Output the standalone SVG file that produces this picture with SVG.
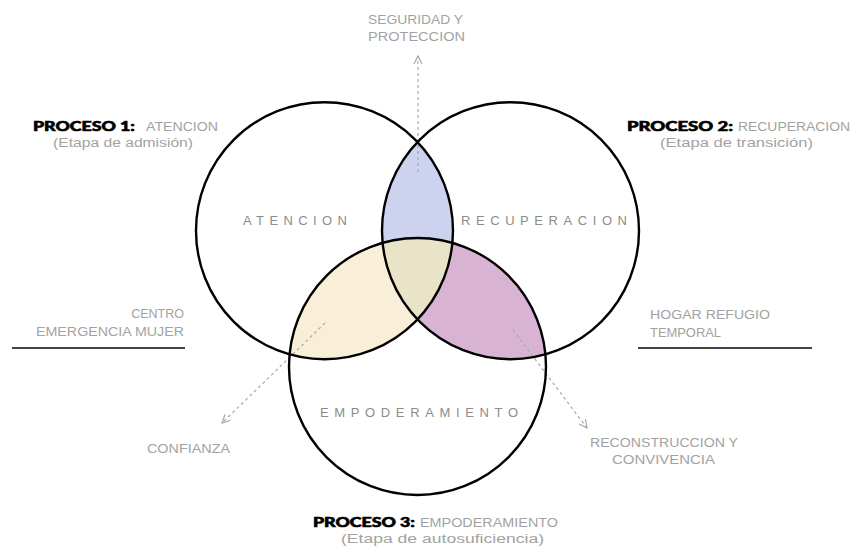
<svg xmlns="http://www.w3.org/2000/svg" width="853" height="549" viewBox="0 0 853 549">
<style>
.lbl{font-family:"Liberation Sans",Arial,sans-serif;font-size:12.5px;fill:#a2a2a2}
.big{font-family:"Liberation Sans",Arial,sans-serif;font-size:13px;fill:#8c8c8c}
.bold{font-family:"Lato","DejaVu Sans",sans-serif;font-weight:900;font-size:13px;fill:#000;stroke:#000;stroke-width:0.6}
.ring{fill:none;stroke:#000;stroke-width:2.4}
.dash{fill:none;stroke:#a8a8a8;stroke-width:1.2;stroke-dasharray:3 3;marker-end:url(#arr)}
.rule{stroke:#444;stroke-width:2}
</style>
<defs>
<marker id="arr" viewBox="0 0 10 10" refX="9" refY="5" markerWidth="10" markerHeight="10" markerUnits="userSpaceOnUse" orient="auto">
<path d="M1,1 L9,5 L1,9" fill="none" stroke="#a8a8a8" stroke-width="1.2"/>
</marker>
<clipPath id="k1"><circle cx="324.5" cy="230.7" r="128.5"/></clipPath>
<clipPath id="k2"><circle cx="510.5" cy="230.7" r="128.5"/></clipPath>
<clipPath id="k3"><circle cx="417.5" cy="366.5" r="128.5"/></clipPath>
</defs>
<rect width="853" height="549" fill="#fff"/>
<g id="fills">
<circle cx="510.5" cy="230.7" r="128.5" fill="#cdd3ef" clip-path="url(#k1)"/>
<circle cx="417.5" cy="366.5" r="128.5" fill="#f9efd8" clip-path="url(#k1)"/>
<circle cx="417.5" cy="366.5" r="128.5" fill="#d9b3d3" clip-path="url(#k2)"/>
<g clip-path="url(#k1)"><circle cx="417.5" cy="366.5" r="128.5" fill="#e9e4c8" clip-path="url(#k2)"/></g>
</g>
<g id="connectors">
<line class="dash" x1="418" y1="172" x2="418" y2="56"/>
<line class="dash" x1="325" y1="323" x2="222" y2="423"/>
<line class="dash" x1="513" y1="330" x2="587" y2="428"/>
</g>
<g id="atencion">
<circle class="ring" cx="324.5" cy="230.7" r="128.5"/>
<text class="big" x="243" y="225" textLength="109" lengthAdjust="spacing" style="letter-spacing:5px">ATENCION</text>
</g>
<g id="recuperacion">
<circle class="ring" cx="510.5" cy="230.7" r="128.5"/>
<text class="big" x="461" y="225" textLength="171" lengthAdjust="spacing" style="letter-spacing:5px">RECUPERACION</text>
</g>
<g id="empoderamiento">
<circle class="ring" cx="417.5" cy="366.5" r="128.5"/>
<text class="big" x="320" y="417" textLength="203" lengthAdjust="spacing" style="letter-spacing:5px">EMPODERAMIENTO</text>
</g>
<g id="seguridad">
<text class="lbl" x="368" y="24" textLength="95" lengthAdjust="spacingAndGlyphs">SEGURIDAD Y</text>
<text class="lbl" x="368" y="41" textLength="97" lengthAdjust="spacingAndGlyphs">PROTECCION</text>
</g>
<g id="proceso1">
<text class="bold" x="33" y="131" textLength="102" lengthAdjust="spacingAndGlyphs">PROCESO 1:</text>
<text class="lbl" x="146" y="131" textLength="72" lengthAdjust="spacingAndGlyphs">ATENCION</text>
<text class="lbl" x="53" y="147" textLength="140" lengthAdjust="spacingAndGlyphs">(Etapa de admisión)</text>
</g>
<g id="proceso2">
<text class="bold" x="627" y="131" textLength="106" lengthAdjust="spacingAndGlyphs">PROCESO 2:</text>
<text class="lbl" x="738" y="131" textLength="112" lengthAdjust="spacingAndGlyphs">RECUPERACION</text>
<text class="lbl" x="660" y="147" textLength="153" lengthAdjust="spacingAndGlyphs">(Etapa de transición)</text>
</g>
<g id="proceso3">
<text class="bold" x="313" y="527" textLength="102" lengthAdjust="spacingAndGlyphs">PROCESO 3:</text>
<text class="lbl" x="420" y="527" textLength="138" lengthAdjust="spacingAndGlyphs">EMPODERAMIENTO</text>
<text class="lbl" x="341" y="543" textLength="203" lengthAdjust="spacingAndGlyphs">(Etapa de autosuficiencia)</text>
</g>
<g id="centro">
<text class="lbl" x="184" y="318" text-anchor="end">CENTRO</text>
<text class="lbl" x="36" y="336" textLength="148" lengthAdjust="spacingAndGlyphs">EMERGENCIA MUJER</text>
<line class="rule" x1="12" y1="348" x2="185" y2="348"/>
</g>
<g id="hogar">
<text class="lbl" x="650" y="319" textLength="120" lengthAdjust="spacingAndGlyphs">HOGAR REFUGIO</text>
<text class="lbl" x="650" y="337" textLength="71" lengthAdjust="spacingAndGlyphs">TEMPORAL</text>
<line class="rule" x1="638" y1="348" x2="812" y2="348"/>
</g>
<g id="confianza">
<text class="lbl" x="147" y="453" textLength="83" lengthAdjust="spacingAndGlyphs">CONFIANZA</text>
</g>
<g id="reconstruccion">
<text class="lbl" x="590" y="447" textLength="148" lengthAdjust="spacingAndGlyphs">RECONSTRUCCION Y</text>
<text class="lbl" x="612" y="464" textLength="103" lengthAdjust="spacingAndGlyphs">CONVIVENCIA</text>
</g>
</svg>
